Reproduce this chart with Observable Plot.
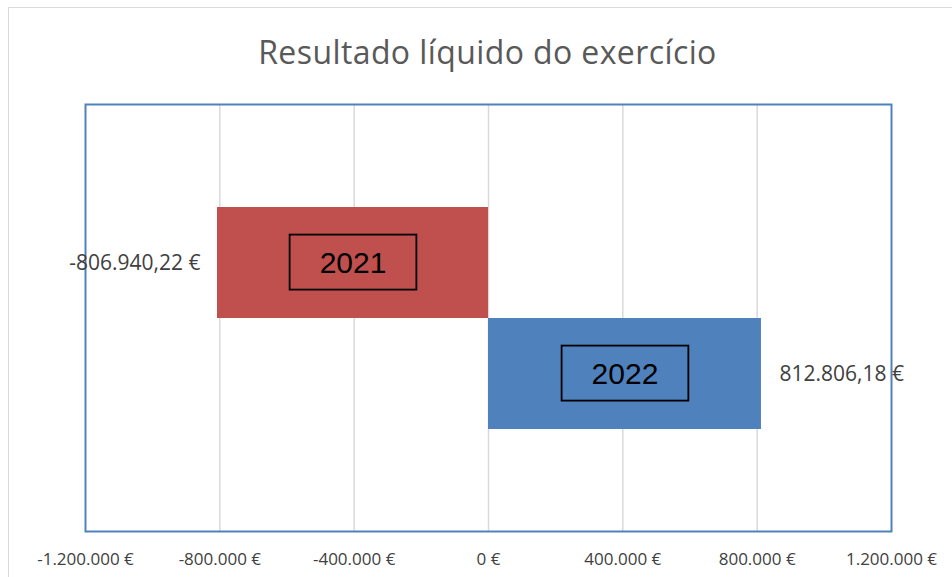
<!DOCTYPE html>
<html>
<head>
<meta charset="utf-8">
<script src="https://cdn.jsdelivr.net/npm/d3@7"></script>
<script src="https://cdn.jsdelivr.net/npm/@observablehq/plot@0.6"></script>
<style>
  html, body { margin: 0; padding: 0; background: #fff; }
  body { width: 952px; height: 577px; position: relative; overflow: hidden; }
  #outer { position: absolute; left: 8px; top: 7px; width: 2000px; height: 2000px; border-top: 1.5px solid #d9d9d9; border-left: 1.5px solid #d9d9d9; }
  #title { position: absolute; left: 0; top: 36px; width: 975px; text-align: center; font-family: "Open Sans", sans-serif; font-weight: 400; font-size: 32px; letter-spacing: 0.4px; line-height: 31px; color: #595959; }
  #chart { position: absolute; left: 0; top: 80px; }
</style>
</head>
<body>
<div id="outer"></div>
<div id="title">Resultado líquido do exercício</div>
<div id="chart"></div>
<script>
const years = ["2021", "2022"];
const values = [-806940.22, 812806.18];
const valueLabels = ["-806.940,22 €", "812.806,18 €"];
const barColors = ["#C0504D", "#4F81BD"];
const xTicks = [-1200000, -800000, -400000, 0, 400000, 800000, 1200000];
const xTickLabels = ["-1.200.000 €", "-800.000 €", "-400.000 €", "0 €", "400.000 €", "800.000 €", "1.200.000 €"];
const gridValues = [-800000, -400000, 0, 400000, 800000];

const data = years.map((y, i) => ({year: y, value: values[i], label: valueLabels[i], color: barColors[i]}));

const chart = Plot.plot({
  width: 952,
  height: 497,
  marginTop: 24,
  marginBottom: 46,
  marginLeft: 85,
  marginRight: 61,
  style: {fontFamily: "'Open Sans', sans-serif", fontSize: "17px", color: "#404040", background: "transparent"},
  x: {domain: [-1200000, 1200000], ticks: xTicks, tickFormat: d => xTickLabels[xTicks.indexOf(d)], tickSize: 0, tickPadding: 21, label: null},
  y: {domain: years, paddingInner: 0, paddingOuter: 0.92, axis: null},
  color: {type: "identity"},
  marks: [
    Plot.ruleX(gridValues, {stroke: "#d9d9d9", strokeWidth: 1.5}),
    Plot.barX(data, {x1: 0, x2: "value", y: "year", fill: "color", inset: 0}),
    Plot.frame({stroke: "#4F81BD", strokeWidth: 2}),
    Plot.text(data, {x: d => d.value / 2, y: "year", text: "year", fontSize: 30, fontFamily: "'Liberation Sans', Arial, sans-serif", fill: "black"}),
    Plot.text(data.filter(d => d.value < 0), {x: "value", y: "year", text: "label", textAnchor: "end", dx: -17, fontSize: 21, fill: "#404040"}),
    Plot.text(data.filter(d => d.value >= 0), {x: "value", y: "year", text: "label", textAnchor: "start", dx: 18, fontSize: 21, fill: "#404040"})
  ]
});
document.getElementById("chart").appendChild(chart);

// draw frames around the year labels
chart.querySelectorAll("text").forEach(t => {
  if (years.includes(t.textContent.trim())) {
    const b = t.getBBox();
    const r = document.createElementNS("http://www.w3.org/2000/svg", "rect");
    const padX = 30, padY = 11;
    r.setAttribute("x", b.x - padX);
    r.setAttribute("y", b.y - padY);
    r.setAttribute("width", b.width + 2 * padX);
    r.setAttribute("height", b.height + 2 * padY);
    r.setAttribute("fill", "none");
    r.setAttribute("stroke", "black");
    r.setAttribute("stroke-width", "1.8");
    const tr = t.getAttribute("transform");
    if (tr) r.setAttribute("transform", tr);
    t.parentNode.insertBefore(r, t);
  }
});
</script>
</body>
</html>
